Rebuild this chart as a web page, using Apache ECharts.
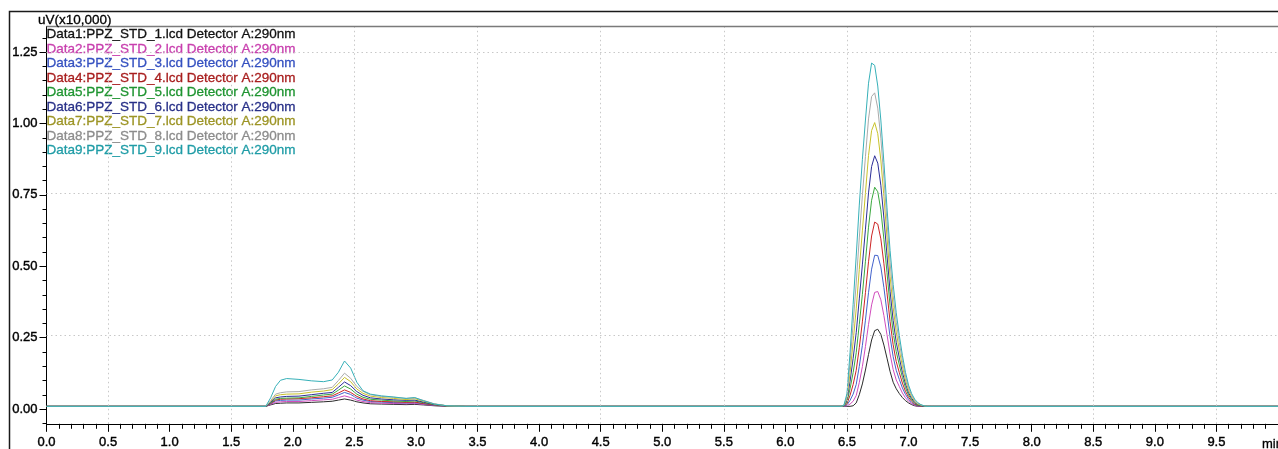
<!DOCTYPE html>
<html>
<head>
<meta charset="utf-8">
<script src="https://cdn.jsdelivr.net/npm/echarts@6/dist/echarts.min.js"></script>
<style>
html,body{margin:0;padding:0;background:#fff;}
#chart{width:1278px;height:449px;}
</style>
</head>
<body>
<div id="chart"></div>
<script>
const seriesNames = [
  'Data1:PPZ_STD_1.lcd Detector A:290nm','Data2:PPZ_STD_2.lcd Detector A:290nm','Data3:PPZ_STD_3.lcd Detector A:290nm',
  'Data4:PPZ_STD_4.lcd Detector A:290nm','Data5:PPZ_STD_5.lcd Detector A:290nm','Data6:PPZ_STD_6.lcd Detector A:290nm',
  'Data7:PPZ_STD_7.lcd Detector A:290nm','Data8:PPZ_STD_8.lcd Detector A:290nm','Data9:PPZ_STD_9.lcd Detector A:290nm'
];
const lineColors = ['#2a2a2a','#d04cbc','#4262cc','#cc2424','#3aa83e','#2c2e98','#c8c22a','#aaaaaa','#36b0b8'];
const textColors = ['#111111','#c83fae','#3450c0','#a81e1e','#1e9430','#283088','#9c9424','#8c8c8c','#1f9ca6'];
const xTicks = [0, 10];
const yRange = [-0.0616, 1.34];
const yLabelRange = [0, 1.25];
const yMinorRange = [-0.05, 1.30];
const vGridLines = [0.5,1.5,2.5,3.5,4.5,5.5,6.5,7.5,8.5,9.5];
const hGridLines = [0.25,0.75,1.25];
const timesBump = [1.78,1.82,1.86,1.90,1.95,2.05,2.15,2.25,2.32,2.37,2.42,2.47,2.52,2.57,2.63,2.72,2.82,2.92,2.99,3.06,3.15,3.25,3.40];
const timesPeak = [6.450,6.475,6.500,6.525,6.550,6.575,6.600,6.625,6.650,6.675,6.700,6.725,6.750,6.775,6.800,6.825,6.850,6.875,6.900,6.925,6.950,6.975,7.000,7.025,7.050,7.075,7.100,7.125,7.150,7.175,7.200];
const bump1 = [0,0.005,0.010,0.011,0.012,0.012,0.014,0.016,0.018,0.022,0.026,0.022,0.016,0.012,0.009,0.008,0.007,0.006,0.007,0.005,0.002,0,0];
const bump2 = [0,0.007,0.014,0.016,0.017,0.017,0.020,0.023,0.025,0.031,0.037,0.031,0.022,0.017,0.013,0.011,0.010,0.009,0.010,0.007,0.003,0.001,0];
const bump3 = [0,0.009,0.019,0.021,0.022,0.022,0.026,0.029,0.032,0.040,0.049,0.042,0.029,0.022,0.017,0.015,0.013,0.012,0.013,0.009,0.004,0.001,0];
const bump4 = [0,0.010,0.022,0.025,0.026,0.027,0.030,0.034,0.037,0.047,0.058,0.049,0.035,0.026,0.020,0.017,0.016,0.014,0.015,0.010,0.005,0.001,0];
const bump5 = [0,0.012,0.025,0.028,0.029,0.030,0.035,0.040,0.043,0.057,0.072,0.061,0.043,0.032,0.025,0.022,0.019,0.017,0.019,0.013,0.006,0.001,0];
const bump6 = [0,0.014,0.030,0.033,0.035,0.036,0.041,0.046,0.049,0.067,0.086,0.073,0.052,0.039,0.030,0.026,0.023,0.021,0.022,0.015,0.007,0.002,0];
const bump7 = [0,0.017,0.037,0.041,0.043,0.044,0.050,0.054,0.059,0.079,0.102,0.087,0.061,0.046,0.036,0.031,0.028,0.024,0.027,0.018,0.008,0.002,0];
const bump8 = [0,0.020,0.043,0.048,0.051,0.052,0.058,0.062,0.067,0.091,0.117,0.099,0.070,0.053,0.041,0.035,0.032,0.028,0.030,0.021,0.009,0.002,0];
const bump9 = [0,0.030,0.070,0.092,0.098,0.095,0.090,0.087,0.093,0.120,0.160,0.135,0.085,0.055,0.043,0.037,0.033,0.028,0.031,0.020,0.008,0.002,0];
const peak1 = [0,0,0,0,0.002,0.012,0.041,0.079,0.128,0.183,0.234,0.267,0.272,0.254,0.216,0.170,0.123,0.085,0.062,0.045,0.031,0.020,0.012,0.006,0.002,0,0,0,0,0,0];
const peak2 = [0,0,0.002,0.008,0.018,0.038,0.084,0.140,0.211,0.289,0.358,0.402,0.405,0.376,0.320,0.253,0.185,0.130,0.093,0.070,0.047,0.030,0.018,0.010,0.004,0.001,0,0,0,0,0];
const peak3 = [0,0,0.005,0.021,0.043,0.077,0.141,0.215,0.304,0.401,0.484,0.533,0.532,0.492,0.419,0.332,0.245,0.175,0.127,0.095,0.065,0.042,0.025,0.014,0.006,0.002,0.001,0,0,0,0];
const peak4 = [0,0.001,0.009,0.039,0.077,0.127,0.207,0.298,0.401,0.510,0.601,0.650,0.643,0.591,0.503,0.401,0.299,0.217,0.158,0.119,0.082,0.053,0.032,0.018,0.008,0.003,0.001,0.001,0,0,0];
const peak5 = [0,0.001,0.015,0.062,0.119,0.189,0.289,0.395,0.512,0.632,0.727,0.773,0.757,0.693,0.589,0.472,0.355,0.261,0.193,0.146,0.102,0.066,0.040,0.023,0.011,0.004,0.002,0.001,0,0,0];
const peak6 = [0,0.002,0.021,0.088,0.169,0.260,0.379,0.499,0.625,0.753,0.846,0.884,0.858,0.780,0.664,0.533,0.406,0.303,0.226,0.171,0.120,0.079,0.048,0.028,0.014,0.006,0.003,0.001,0,0,0];
const peak7 = [0,0.003,0.028,0.119,0.228,0.344,0.483,0.619,0.753,0.885,0.973,1.001,0.962,0.869,0.740,0.597,0.459,0.349,0.262,0.198,0.141,0.093,0.057,0.034,0.018,0.008,0.004,0.002,0,0,0];
const peak8 = [0,0.003,0.036,0.154,0.292,0.435,0.594,0.743,0.881,1.014,1.093,1.106,1.052,0.946,0.805,0.652,0.507,0.391,0.297,0.225,0.161,0.107,0.066,0.039,0.022,0.011,0.005,0.002,0,0,0];
const peak9 = [0,0.004,0.045,0.190,0.360,0.530,0.710,0.870,1.010,1.140,1.211,1.203,1.130,1.010,0.860,0.700,0.550,0.430,0.330,0.250,0.180,0.120,0.075,0.045,0.025,0.013,0.006,0.002,0,0,0];
const bumps = [bump1,bump2,bump3,bump4,bump5,bump6,bump7,bump8,bump9];
const peaks = [peak1,peak2,peak3,peak4,peak5,peak6,peak7,peak8,peak9];

const FONT = '"Liberation Sans", Arial, sans-serif';
function build(bump, peak) {
  const pts = [[xTicks[0], 0]];
  timesBump.forEach((t, i) => pts.push([t, bump[i]]));
  timesPeak.forEach((t, i) => pts.push([t, peak[i]]));
  pts.push([xTicks[1], 0]);
  return pts;
}
const series = seriesNames.map((name, i) => {
  const s = {
    name: name, type: 'line', xAxisIndex: 0, yAxisIndex: 0,
    showSymbol: false, symbol: 'none', silent: true, animation: false,
    lineStyle: { width: 1, color: lineColors[i] }, itemStyle: { color: lineColors[i] },
    data: build(bumps[i], peaks[i])
  };
  if (i === 0) {
    s.markLine = {
      silent: true, symbol: ['none', 'none'], label: { show: false },
      lineStyle: { type: [1.5, 3], color: '#c8c8c8', width: 1 },
      data: vGridLines.map(v => ({ xAxis: v })).concat(hGridLines.map(v => ({ yAxis: v })))
    };
  }
  return s;
});
const noLines = { splitLine: { show: false }, minorSplitLine: { show: false }, splitArea: { show: false } };
const labelStyle = { color: '#000', fontSize: 13, fontFamily: FONT, textBorderColor: '#000', textBorderWidth: 0.4 };
const chart = echarts.init(document.getElementById('chart'), null, { renderer: 'canvas' });
chart.setOption({
  animation: false,
  backgroundColor: '#ffffff',
  grid: [
    { left: 46.5, top: 26.5, width: 1234.4, height: 400.2, containLabel: false },
    { left: 46.5, top: 52.1, width: 100, height: 357.0, containLabel: false },
    { left: 46.5, top: 37.8, width: 100, height: 385.6, containLabel: false }
  ],
  xAxis: [
    Object.assign({
      type: 'value', gridIndex: 0, min: xTicks[0], max: xTicks[1], interval: 0.5,
      axisLine: { show: true, onZero: false, lineStyle: { color: '#000', width: 1 } },
      axisTick: { show: true, length: 8, lineStyle: { color: '#000' } },
      minorTick: { show: true, splitNumber: 5, length: 5, lineStyle: { color: '#000' } },
      axisLabel: Object.assign({ show: true, margin: 12, showMaxLabel: false, formatter: v => v.toFixed(1) }, labelStyle)
    }, noLines),
    Object.assign({ type: 'value', gridIndex: 1, min: 0, max: 1, show: false }, noLines),
    Object.assign({ type: 'value', gridIndex: 2, min: 0, max: 1, show: false }, noLines)
  ],
  yAxis: [
    Object.assign({
      type: 'value', gridIndex: 0, min: yRange[0], max: yRange[1],
      axisLine: { show: true, onZero: false, lineStyle: { color: '#000', width: 1 } },
      axisTick: { show: false }, axisLabel: { show: false }
    }, noLines),
    Object.assign({
      type: 'value', gridIndex: 1, min: yLabelRange[0], max: yLabelRange[1], interval: 0.25,
      axisLine: { show: false },
      axisTick: { show: true, length: 7, lineStyle: { color: '#000' } },
      axisLabel: Object.assign({ show: true, margin: 9, formatter: v => v.toFixed(2) }, labelStyle)
    }, noLines),
    Object.assign({
      type: 'value', gridIndex: 2, min: yMinorRange[0], max: yMinorRange[1], interval: 0.05,
      axisLine: { show: false },
      axisTick: { show: true, length: 4, lineStyle: { color: '#000' } },
      axisLabel: { show: false }
    }, noLines)
  ],
  legend: {
    orient: 'vertical', left: 41.5, top: 27.5, padding: 0,
    itemWidth: 0, itemHeight: 14, itemGap: 0.2, selectedMode: false,
    textStyle: { fontSize: 13.5, fontFamily: FONT, lineHeight: 14 },
    data: seriesNames.map((n, i) => ({ name: n, icon: 'none',
      textStyle: { color: textColors[i], textBorderColor: textColors[i], textBorderWidth: 0.3 } }))
  },
  graphic: [
    { type: 'rect', silent: true, z: 100, shape: { x: 9.5, y: 11.5, width: 1320, height: 500 },
      style: { fill: 'none', stroke: '#1a1a1a', lineWidth: 1.5 } },
    { type: 'line', silent: true, z: 100, shape: { x1: 46.5, y1: 26.5, x2: 1290, y2: 26.5 },
      style: { stroke: '#7a7a7a', lineWidth: 1.5 } },
    { type: 'text', silent: true, z: 100, x: 38, y: 20,
      style: { text: 'uV(x10,000)', fontSize: 13.5, fontFamily: FONT, fill: '#000', stroke: '#000', lineWidth: 0.3, verticalAlign: 'middle', align: 'left' } },
    { type: 'text', silent: true, z: 100, x: 1262, y: 444,
      style: { text: 'min', fontSize: 13, fontFamily: FONT, fill: '#000', stroke: '#000', lineWidth: 0.3, verticalAlign: 'middle', align: 'left' } }
  ],
  series: series
});
</script>
</body>
</html>
